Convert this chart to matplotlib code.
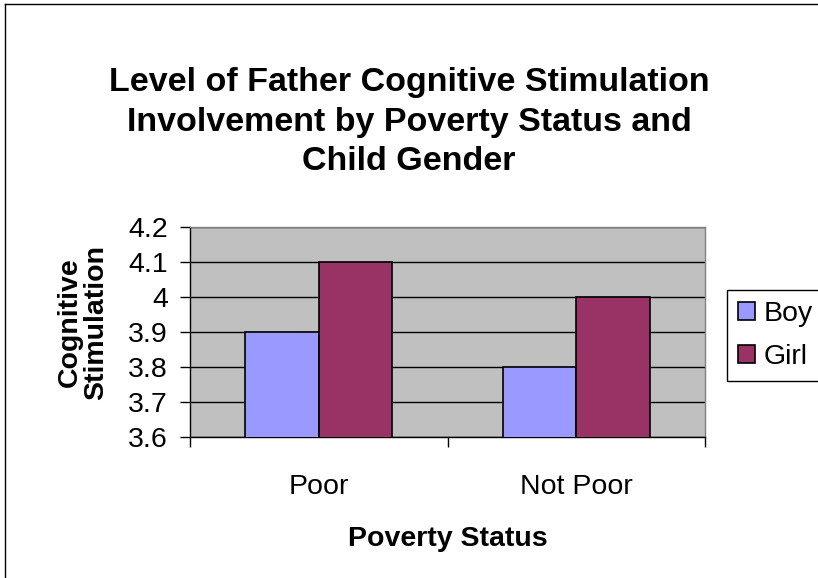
import matplotlib
matplotlib.use("Agg")
import matplotlib.pyplot as plt
from matplotlib.lines import Line2D
import numpy as np

plt.rcParams['font.family'] = ['Liberation Sans', 'DejaVu Sans']

categories = ["Poor", "Not Poor"]
boy = [3.9, 3.8]
girl = [4.1, 4.0]
yticks = [3.6, 3.7, 3.8, 3.9, 4.0, 4.1, 4.2]
ytick_labels = ["3.6", "3.7", "3.8", "3.9", "4", "4.1", "4.2"]

W, H = 818, 578
FS = 20.5
fig = plt.figure(figsize=(W/100, H/100), dpi=100)
ax = fig.add_axes([190/W, 1-437/H, (705-190)/W, (437-227)/H])
ax.set_facecolor('#C0C0C0')

x = np.arange(len(categories))
w = 1/3.5
ax.bar(x - w/2, boy, w, color='#9999FF', edgecolor='black', linewidth=1.2, label='Boy', zorder=3)
ax.bar(x + w/2, girl, w, color='#993366', edgecolor='black', linewidth=1.2, label='Girl', zorder=3)

ax.set_ylim(3.6, 4.2)
ax.set_xlim(-0.5, len(categories)-0.5)
ax.set_yticks(yticks)
ax.set_yticklabels(ytick_labels, fontsize=FS)
ax.yaxis.grid(True, color='black', linewidth=1, zorder=1)
ax.set_axisbelow(True)

ax.set_xticks(x)
ax.set_xticklabels(categories, fontsize=FS)
ax.tick_params(axis='x', length=0, pad=27)
ax.set_xticks([-0.5, 0.5, 1.5], minor=True)
ax.tick_params(axis='x', which='minor', length=7, width=1, direction='out')
ax.tick_params(axis='y', length=7, width=1, direction='out', pad=9)

for s in ['top', 'right']:
    ax.spines[s].set_color('#808080')
    ax.spines[s].set_linewidth(1)
for s in ['left', 'bottom']:
    ax.spines[s].set_color('black')
    ax.spines[s].set_linewidth(1)

ax.set_xlabel("Poverty Status", fontsize=FS, fontweight='bold', labelpad=18)
fig.text(83/W, 1-322/H, "Cognitive\nStimulation", rotation=90, ha='center', va='center',
         fontsize=FS, fontweight='bold', linespacing=1.0)

fig.text(409/W, 1-122/H, "Level of Father Cognitive Stimulation\nInvolvement by Poverty Status and\nChild Gender",
         ha='center', va='center', fontsize=24.5, fontweight='bold', linespacing=1.36)

leg = fig.legend(loc='upper left', bbox_to_anchor=(727/W, 1-290/H), fontsize=FS,
                 frameon=True, fancybox=False, edgecolor='black', framealpha=1,
                 handlelength=0.6, handleheight=0.6, handletextpad=0.3, borderpad=0.38,
                 labelspacing=0.6, borderaxespad=0)
leg.get_frame().set_linewidth(1)

fig.add_artist(Line2D([5/W, 5/W], [0, 1-4/H], color='black', linewidth=1, transform=fig.transFigure))
fig.add_artist(Line2D([5/W, 1], [1-4/H, 1-4/H], color='black', linewidth=1, transform=fig.transFigure))

fig.savefig("out.png", dpi=100)
